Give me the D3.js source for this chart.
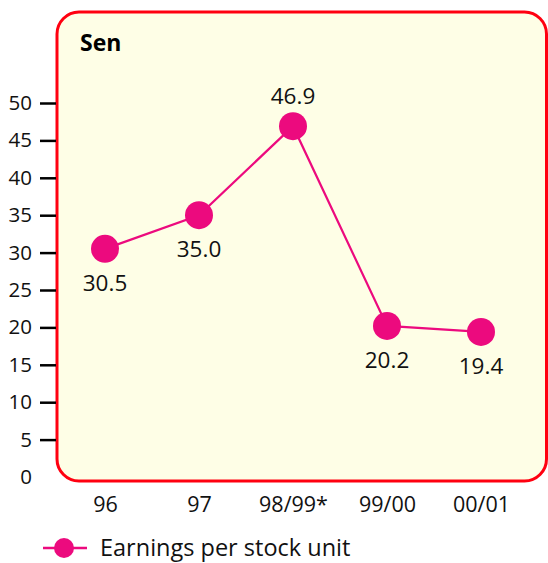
<!DOCTYPE html>
<html><head><meta charset="utf-8">
<script src="https://cdn.jsdelivr.net/npm/d3@7"></script>
<style>body{margin:0;background:#fff}svg{display:block}text{font-family:"Open Sans","Noto Sans",sans-serif}</style>
</head><body>
<script>
const categories = ["96","97","98/99*","99/00","00/01"];
const values = [30.5, 35.0, 46.9, 20.2, 19.4];
const valueLabels = ["30.5","35.0","46.9","20.2","19.4"];
const labelAbove = [false,false,true,false,false];
const yTicks = [0,5,10,15,20,25,30,35,40,45,50];
const unitLabel = "Sen";
const seriesName = "Earnings per stock unit";

const W=548,H=563, pink="#ec0a7e";
const svg=d3.select("body").append("svg").attr("width",W).attr("height",H);
const x=d3.scalePoint().domain(categories).range([105,481]);
const y=d3.scaleLinear().domain([0,50]).range([477,103]);

svg.append("rect").attr("x",57).attr("y",12).attr("width",489.5).attr("height",469)
  .attr("rx",22).attr("fill","#fefee6").attr("stroke","#ff0010").attr("stroke-width",3);
svg.append("text").attr("x",80).attr("y",51).attr("font-size",23).attr("font-weight","bold").text(unitLabel);

const yAxis=svg.append("g").attr("transform","translate(56,0)")
  .call(d3.axisLeft(y).tickValues(yTicks).tickSize(16).tickPadding(8).tickFormat(d3.format("d")));
yAxis.select(".domain").remove();
yAxis.selectAll(".tick line").attr("stroke","#000").attr("stroke-width",2.5).attr("opacity",d=>d===0?0:1);
yAxis.selectAll(".tick text").attr("font-size",20.5).attr("fill","#111").attr("font-family","'Open Sans',sans-serif");

const xAxis=svg.append("g").attr("transform","translate(0,481)")
  .call(d3.axisBottom(x).tickSize(0).tickPadding(16));
xAxis.select(".domain").remove();
xAxis.selectAll(".tick text").attr("font-size",21.5).attr("fill","#111").attr("font-family","'Open Sans',sans-serif");

const data=categories.map((c,i)=>({c,v:values[i],l:valueLabels[i],a:labelAbove[i]}));
svg.append("path").datum(data).attr("fill","none").attr("stroke",pink).attr("stroke-width",2.2)
  .attr("d",d3.line().x(d=>x(d.c)).y(d=>y(d.v)));
svg.selectAll("circle.pt").data(data).join("circle").attr("class","pt")
  .attr("cx",d=>x(d.c)).attr("cy",d=>y(d.v)).attr("r",14).attr("fill",pink);
svg.selectAll("text.vl").data(data).join("text").attr("class","vl")
  .attr("x",d=>x(d.c)).attr("y",d=>d.a?y(d.v)-22:y(d.v)+42)
  .attr("text-anchor","middle").attr("font-size",22.5).attr("fill","#111").text(d=>d.l);

svg.append("line").attr("x1",43).attr("x2",87).attr("y1",548).attr("y2",548).attr("stroke",pink).attr("stroke-width",2.5);
svg.append("circle").attr("cx",64).attr("cy",548).attr("r",10).attr("fill",pink);
svg.append("text").attr("x",100).attr("y",556).attr("font-size",23.5).attr("fill","#111").text(seriesName);
</script>
</body></html>
